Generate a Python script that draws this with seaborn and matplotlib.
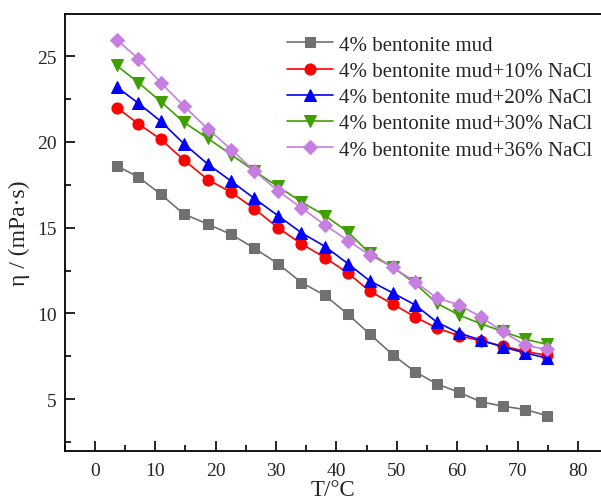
import matplotlib
matplotlib.use("Agg")
import matplotlib.pyplot as plt
import seaborn as sns
from matplotlib.ticker import MultipleLocator

temps = [3.6, 7.2, 10.9, 14.7, 18.7, 22.6, 26.4, 30.3, 34.2, 38.1,
         41.9, 45.5, 49.3, 53.0, 56.6, 60.3, 63.9, 67.5, 71.2, 74.8]
mud = [18.6, 17.95, 16.95, 15.8, 15.2, 14.6, 13.8, 12.9, 11.8, 11.05,
       9.95, 8.8, 7.6, 6.6, 5.9, 5.4, 4.85, 4.6, 4.4, 4.05]
nacl10 = [22.0, 21.05, 20.15, 18.95, 17.8, 17.05, 16.1, 15.0, 14.05, 13.25,
          12.35, 11.3, 10.55, 9.8, 9.15, 8.7, 8.4, 8.1, 7.8, 7.55]
nacl20 = [23.2, 22.25, 21.2, 19.9, 18.7, 17.7, 16.7, 15.7, 14.7, 13.9,
          12.9, 11.9, 11.2, 10.5, 9.5, 8.85, 8.45, 8.05, 7.7, 7.4]
nacl30 = [24.45, 23.45, 22.35, 21.15, 20.2, 19.25, 18.3, 17.4, 16.5, 15.7,
          14.75, 13.5, 12.7, 11.75, 10.6, 9.9, 9.4, 8.95, 8.5, 8.2]
nacl36 = [25.95, 24.85, 23.45, 22.1, 20.75, 19.55, 18.3, 17.15, 16.15, 15.15,
          14.25, 13.4, 12.7, 11.85, 10.9, 10.5, 9.8, 8.95, 8.15, 7.9]

labels = ["4% bentonite mud", "4% bentonite mud+10% NaCl", "4% bentonite mud+20% NaCl",
          "4% bentonite mud+30% NaCl", "4% bentonite mud+36% NaCl"]
series = [mud, nacl10, nacl20, nacl30, nacl36]
colors = ["#707070", "#ff0000", "#0000ff", "#3f9f00", "#c67fe0"]
markers = ["s", "o", "^", "v", "D"]
msizes = [6.5, 8, 8.5, 8.5, 7.5]

sns.set_style("ticks")
plt.rcParams["font.family"] = ["Liberation Serif", "DejaVu Serif"]

fig = plt.figure(figsize=(6.01, 5.02), dpi=100)
ax = fig.add_axes([64.7 / 601, 1 - 451.7 / 502, 1 - 64.7 / 601, (451.7 - 15) / 502])

for vals, lab, c, m, ms in zip(series, labels, colors, markers, msizes):
    sns.lineplot(x=temps, y=vals, ax=ax, color=c, marker=m, markersize=ms,
                 markeredgecolor=c, linewidth=1.2, label=lab)

ax.set_xlim(-5, 83.8)
ax.set_ylim(2.0, 27.45)
ax.xaxis.set_major_locator(MultipleLocator(10))
ax.xaxis.set_minor_locator(MultipleLocator(5))
ax.yaxis.set_major_locator(MultipleLocator(5))
ax.yaxis.set_minor_locator(MultipleLocator(2.5))
ax.tick_params(which="both", direction="in", labelsize=14, width=1.2, color="black")
ax.tick_params(which="major", length=7)
ax.tick_params(axis="x", which="major", pad=8)
ax.tick_params(axis="y", which="major", pad=6)
ax.tick_params(which="minor", length=4)
for s in ["left", "bottom", "top"]:
    ax.spines[s].set_linewidth(1.3)
    ax.spines[s].set_color("black")
ax.spines["right"].set_visible(False)

ax.set_xlabel("T/°C", fontsize=16.5, labelpad=0)
ax.set_ylabel("η / (mPa·s)", fontsize=17, labelpad=5)

ax.legend(loc="upper left", bbox_to_anchor=(287 / 601, 1 - 36 / 502),
          bbox_transform=fig.transFigure, frameon=False, fontsize=15,
          handlelength=2.2, handletextpad=0.3, labelspacing=0.32, borderpad=0,
          borderaxespad=0)

fig.savefig("out.png", dpi=100)
